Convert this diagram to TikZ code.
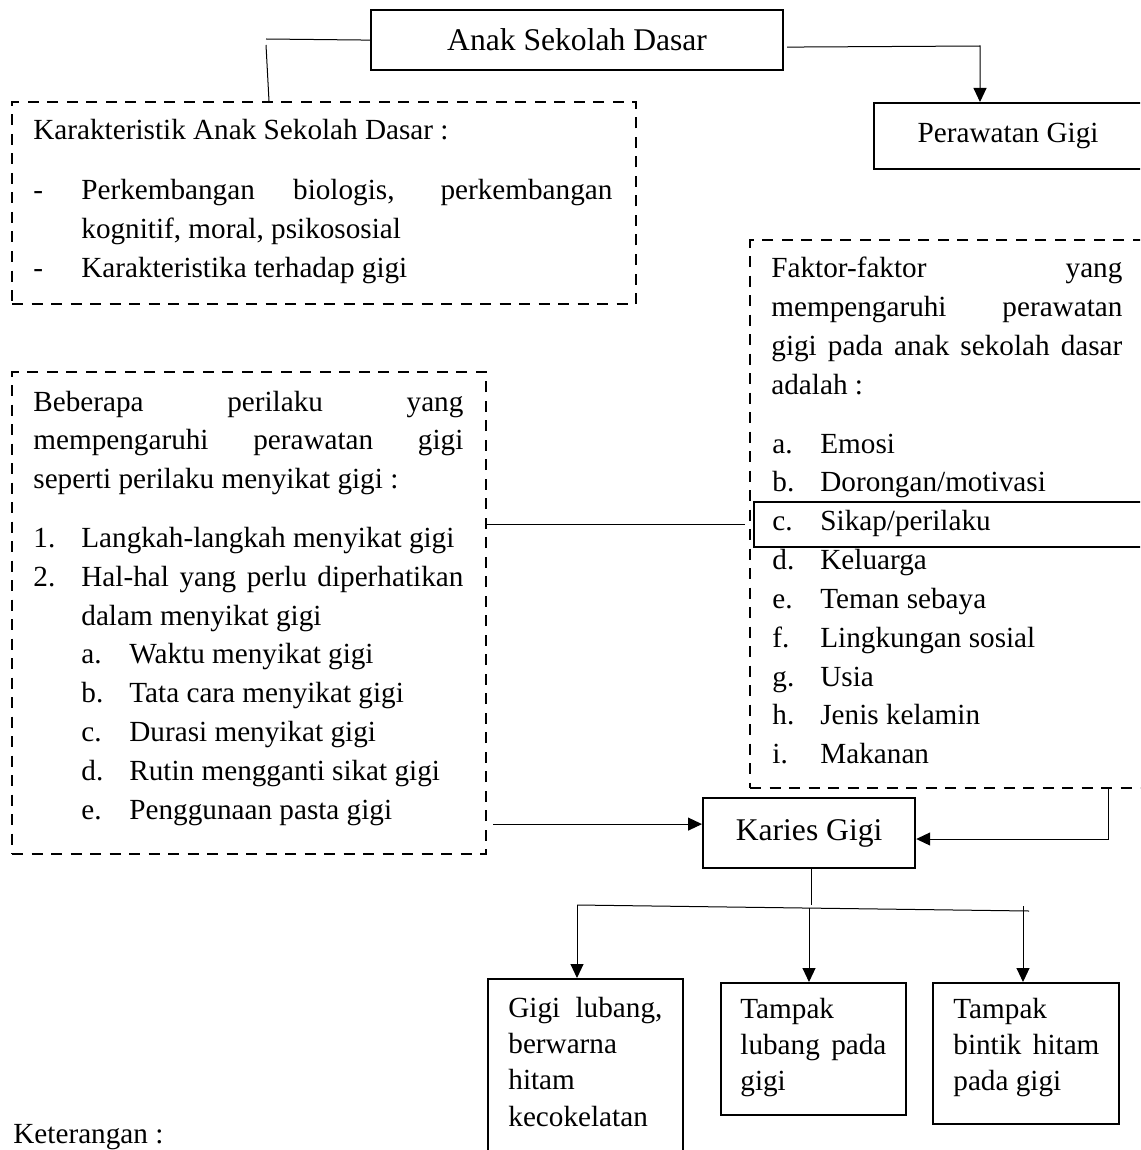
\documentclass[tikz,border=0pt]{standalone}
\usepackage{fontspec}
\setmainfont{Liberation Serif}
\usetikzlibrary{positioning}
\usetikzlibrary{arrows.meta}
\tolerance=9999
\hyphenpenalty=10000
\exhyphenpenalty=10000
\newcommand{\butir}[2]{\par\leftskip=#1\relax\noindent\llap{\makebox[24pt][l]{#2}}}

\begin{document}
\begin{tikzpicture}[x=0.5pt,y=-0.5pt,
  kotak/.style={draw,line width=1.1pt,inner sep=0pt,anchor=north west},
  putus/.style={draw,line width=1pt,dash pattern=on 5.5pt off 4.25pt,inner sep=0pt,anchor=north west},
  isi/.style={anchor=base west,inner sep=0pt,align=justify,font=\fontsize{14.6pt}{19.4pt}\selectfont},
  garis/.style={line width=0.5pt},
  panah/.style={line width=0.5pt,-{Triangle[length=7pt,width=6.5pt]}}]
  \useasboundingbox (0,0) rectangle (1140,1150);
  \clip (0,0) rectangle (1140,1150);
  % kotak-kotak
  \node[kotak,minimum width=206pt,minimum height=30pt,font=\fontsize{15.8pt}{19pt}\selectfont](asd) at (370,9) {Anak Sekolah Dasar};
  \node[kotak,minimum width=134pt,minimum height=33pt,font=\fontsize{14.6pt}{19pt}\selectfont](pg) at (873,102) {Perawatan Gigi};
  \node[putus,minimum width=312pt,minimum height=101pt](kar) at (11,101) {};
  \node[putus,minimum width=237pt,minimum height=241pt](beb) at (11,371) {};
  \node[putus,minimum width=210pt,minimum height=274pt](fak) at (749,239) {};
  \node[kotak,minimum width=210pt,minimum height=22.5pt](sikap) at (753,501) {};
  \node[kotak,minimum width=106pt,minimum height=35pt,font=\fontsize{15.8pt}{19pt}\selectfont](kg) at (702,797) {Karies Gigi};
  \node[kotak,minimum width=97.5pt,minimum height=100pt](g1) at (487,978) {};
  \node[kotak,minimum width=92.5pt,minimum height=66pt](g2) at (720,982) {};
  \node[kotak,minimum width=93pt,minimum height=70.5pt](g3) at (932,982) {};
  % isi teks
  \node[isi,text width=289.5pt](tkar) at (33,140) {Karakteristik Anak Sekolah Dasar :\par\vspace{10.5pt}
    \butir{24pt}{-}Perkembangan biologis, perkembangan\linebreak kognitif, moral, psikososial
    \butir{24pt}{-}Karakteristika terhadap gigi\par};
  \node[isi,text width=215pt](tbeb) at (33,411) {Beberapa perilaku yang\linebreak mempengaruhi perawatan gigi\linebreak seperti perilaku menyikat gigi :\par\vspace{10pt}
    \butir{24pt}{1.}Langkah-langkah menyikat gigi
    \butir{24pt}{2.}Hal-hal yang perlu diperhatikan\linebreak dalam menyikat gigi
    \butir{48pt}{a.}Waktu menyikat gigi
    \butir{48pt}{b.}Tata cara menyikat gigi
    \butir{48pt}{c.}Durasi menyikat gigi
    \butir{48pt}{d.}Rutin mengganti sikat gigi
    \butir{48pt}{e.}Penggunaan pasta gigi\par};
  \node[isi,text width=175.5pt](tfak) at (771,278) {Faktor-faktor yang\linebreak mempengaruhi perawatan\linebreak gigi pada anak sekolah dasar\linebreak adalah :\par\vspace{10pt}
    \butir{24.5pt}{a.}Emosi
    \butir{24.5pt}{b.}Dorongan/motivasi
    \butir{24.5pt}{c.}Sikap/perilaku
    \butir{24.5pt}{d.}Keluarga
    \butir{24.5pt}{e.}Teman sebaya
    \butir{24.5pt}{f.}Lingkungan sosial
    \butir{24.5pt}{g.}Usia
    \butir{24.5pt}{h.}Jenis kelamin
    \butir{24.5pt}{i.}Makanan\par};
  \node[isi,text width=77pt,font=\fontsize{14.6pt}{18.2pt}\selectfont](tg1) at (508,1017) {Gigi lubang, berwarna hitam kecokelatan};
  \node[isi,text width=73pt,font=\fontsize{14.6pt}{18.2pt}\selectfont](tg2) at (740,1018) {Tampak lubang pada gigi};
  \node[isi,text width=73pt,font=\fontsize{14.6pt}{18.2pt}\selectfont](tg3) at (953,1018) {Tampak bintik hitam pada gigi};
  \node[anchor=base west,inner sep=0pt,font=\fontsize{14.6pt}{19pt}\selectfont](ket) at (13,1143) {Keterangan :};
  % garis penghubung
  \coordinate (siku1) at (266,39);
  \coordinate (siku2) at (269,101);
  \coordinate (siku3) at (980,46);
  \coordinate (siku4) at (1108,839);
  \coordinate (cabang) at (811,905);
  \coordinate (ujungK) at (577,905);
  \coordinate (ujungR) at (1029,911);
  \coordinate (tengah) at (809,908);
  \coordinate (kanan) at (1023,906);
  \draw[garis] (asd.west) -- (siku1);
  \draw[garis] ([yshift=-3pt]siku1) -- (siku2);
  \draw[panah] ([xshift=1.5pt,yshift=-3.5pt]asd.east) -- (siku3) -- (siku3 |- pg.north);
  \draw[garis] (beb.east |- sikap.west) -- ([xshift=-4pt]sikap.west);
  \draw[panah] ([xshift=3pt,yshift=4.5pt]beb.east |- kg.west) -- ([yshift=4.5pt]kg.west);
  \draw[panah] (fak.south -| siku4) -- (siku4) -- (siku4 -| kg.east);
  \draw[garis] (kg.south -| cabang) -- (cabang);
  \draw[garis] (ujungK) -- (ujungR);
  \draw[panah] (ujungK) -- (ujungK |- g1.north);
  \draw[panah] (tengah) -- (tengah |- g2.north);
  \draw[panah] (kanan) -- (kanan |- g3.north);
\end{tikzpicture}
\end{document}
